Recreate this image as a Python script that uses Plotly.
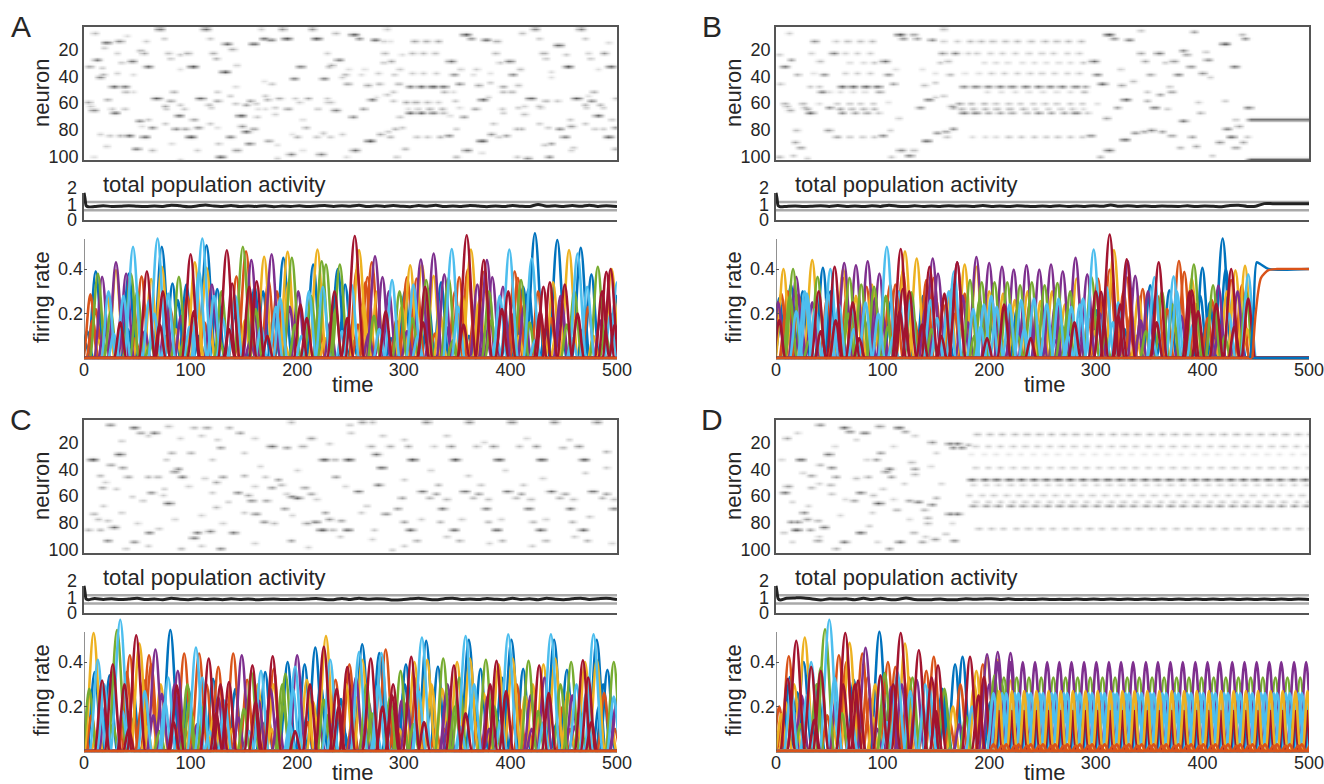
import numpy as np
import plotly.graph_objects as go

BLUE, ORANGE, YELLOW, PURPLE, GREEN, CYAN, RED = "#0072BD", "#D95319", "#EDB120", "#7E2F8E", "#77AC30", "#4DBEEE", "#A2142F"
COLOR_ORDER = [BLUE, ORANGE, YELLOW, PURPLE, GREEN, CYAN, RED]
TICKS_T = [0, 100, 200, 300, 400, 500]
TICKS_N = [20, 40, 60, 80, 100]
TICKS_R = [0.2, 0.4]
TICK_R_TEXT = ["0.2", "0.4"]

# ---- raster events: (time, neuron, darkness) ----
A_events = [(71,1.5,.8),(114,1.5,.8),(10,5,.4),(21,11.5,.8),(33,11,.7),(58,11,.3),(75,9,.3),(118,9,.3),(169,9,.8),(175,10,.7),(190,9,.9),(218,9,.9),(166,1.5,.3),(186,1.5,.6),(214,1.5,.6),(40,7,.2),(134,13,.8),(159,13,.8),(139,17,.5),(19,16,.3),(53,18,.4),(56,20,.5),(31,20,.3),(79,20,.4),(97,20,.5),(90,21,.3),(121,20,.5),(81,24,.3),(124,24,.4),(12,25,.7),(45,26,.8),(35,27,.3),(5,30,.5),(17,31,.3),(60,30,.8),(90,32,.2),(102,30,.9),(132,34,.9),(143,29,.3),(203,30,.7),(230,30,.4),(15,38,.7),(18,36,.4),(31,35,.3),(46,36,.2),(197,39,.7),(225,39,.7),(169,41,.2),(176,43,.3),(28,45,.8),(38,45,.7),(142,45,.2),(39,49,.4),(46,49,.2),(84,49,.4),(125,49,.3),(68,54,.9),(109,54,.9),(22,55,.4),(4,57,.5),(6,60,.3),(81,56,.5),(125,56,.5),(137,52,.3),(170,52,.3),(172,55,.4),(183,54,.5),(198,54,.3),(210,54,.5),(156,56,.5),(161,58,.3),(202,57,.3),(228,57,.3),(142,58,.3),(152,59,.5),(76,60,.5),(77,62,.3),(90,59,.3),(94,62,.3),(117,59,.4),(119,61,.3),(9,63,.7),(26,62,.3),(38,62,.3),(163,62,.2),(170,62,.2),(179,61,.3),(191,62,.5),(219,62,.3),(29,65,.8),(179,66,.3),(89,67,.8),(103,70,.5),(52,71,.6),(60,70,.3),(147,67,.9),(162,68,.3),(205,70,.2),(76,73,.3),(118,73,.3),(54,75,.2),(64,76,.6),(107,76,.6),(86,77,.6),(95,77,.5),(148,75,.6),(152,79,.8),(159,77,.5),(208,76,.4),(125,76,.2),(15,81,.3),(24,82,.3),(34,82,.4),(42,82,.8),(57,83,.8),(100,83,.9),(137,83,.7),(200,83,.4),(224,80,.3),(173,86,.5),(195,81,.2),(218,83,.3),(155,88,.7),(126,88,.3),(82,88,.2),(21,90,.3),(49,92,.7),(64,93,.4),(106,93,.3),(143,93,.6),(205,93,.2),(181,89,.2),(194,96,.7),(222,96,.7),(128,98,.8),(181,99,.3),(90,100,.2),(9,98,.2),
(236,5,.4),(253,6,.9),(258,9,.6),(273,10,.8),(281,11,.3),(287,11,.2),(310,11,.5),(321,11,.5),(332,11,.5),(284,2,.3),(358,6,.9),(363,9,.6),(377,10,.8),(387,11,.5),(411,5,.4),(423,2,.7),(466,2,.7),(427,9,.3),(470,9,.3),(445,14,.9),(492,12,.2),(228,20,.3),(282,20,.4),(308,20,.4),(318,20,.4),(329,20,.4),(298,21,.2),(386,20,.4),(431,20,.5),(452,21,.3),(473,20,.3),(488,20,.6),(433,24,.3),(475,24,.3),(239,25,.7),(288,26,.5),(281,27,.3),(344,26,.8),(399,26,.8),(390,27,.3),(232,29,.5),(263,32,.2),(248,32,.2),(296,32,.3),(353,32,.3),(368,32,.3),(409,32,.4),(454,30,.9),(494,30,.8),(482,32,.2),(260,36,.2),(276,35,.3),(245,36,.4),(242,38,.3),(226,39,.5),(291,36,.3),(308,35,.3),(318,35,.3),(330,35,.3),(347,36,.6),(365,36,.2),(402,36,.6),(381,35,.2),(438,34,.2),(438,38,.2),(247,43,.5),(266,44,.5),(277,43,.4),(295,43,.4),(306,45,.7),(316,45,.8),(327,45,.9),(337,45,.8),(352,43,.6),(370,44,.5),(381,42,.3),(393,45,.5),(407,44,.4),(338,49,.4),(346,49,.2),(393,49,.4),(401,49,.4),(290,49,.3),(478,49,.4),(284,51,.3),(274,53,.2),(270,55,.7),(290,56,.3),(302,57,.5),(311,57,.5),(322,57,.4),(332,57,.3),(348,56,.3),(374,55,.8),(379,53,.3),(419,54,.9),(433,56,.4),(444,56,.3),(462,54,.9),(476,56,.6),(473,52,.2),(499,54,.4),(228,54,.3),(231,57,.4),(262,62,.5),(236,63,.7),(313,62,.3),(324,62,.4),(336,62,.4),(304,62,.2),(352,61,.2),(367,62,.5),(392,62,.3),(407,61,.3),(413,60,.3),(427,60,.4),(428,61,.3),(470,59,.4),(471,61,.3),(484,59,.4),(487,61,.3),(306,65,.8),(316,65,.8),(327,65,.7),(337,65,.4),(343,67,.2),(393,65,.3),(413,66,.4),(252,68,.6),(296,68,.3),(356,68,.5),(482,67,.8),(456,70,.3),(495,70,.3),(384,73,.3),(427,73,.3),(457,75,.6),(470,73,.3),(435,76,.3),(498,76,.5),(406,77,.4),(410,77,.4),(479,77,.3),(487,77,.3),(446,77,.6),(349,77,.3),(292,77,.4),(298,76,.3),(285,79,.3),(278,81,.5),(242,81,.3),(224,81,.2),(382,81,.6),(342,82,.6),(396,82,.5),(389,83,.3),(312,83,.3),(322,83,.3),(334,83,.4),(287,83,.4),(231,83,.3),(268,86,.9),(373,86,.9),(451,83,.7),(492,83,.8),(438,88,.5),(432,89,.3),(301,92,.4),(254,93,.8),(359,93,.8),(459,91,.3),(457,93,.3),(498,92,.4),(223,96,.6),(293,98,.3),(349,98,.4),(436,98,.6),(416,99,.6),(246,98,.2),(406,98,.3),(373,95,.2)]

B_events = [(12,5,.3),(36,11,.6),(56,11,.3),(67,11,.4),(79,11,.4),(90,11,.4),(116,6,.9),(119,9,.6),(129,6,.5),(132,9,.5),(146,10,.6),(157,2,.4),(157,11,.3),(170,11,.3),(182,11,.4),(192,11,.4),(203,11,.4),(215,11,.4),(226,11,.4),(239,11,.4),(252,11,.4),(263,11,.4),(274,11,.4),(286,11,.4),
(3,21,.3),(33,20,.3),(54,20,.7),(65,20,.3),(76,20,.3),(88,20,.3),(156,20,.6),(168,20,.7),(180,20,.3),(188,20,.3),(201,20,.3),(212,20,.3),(224,20,.3),(237,20,.3),(249,20,.3),(260,20,.3),(273,20,.3),(284,20,.3),
(14,25,.5),(8,30,.7),(41,26,.4),(69,27,.2),(82,27,.2),(92,27,.3),(102,26,.8),(154,27,.3),(161,26,.4),(195,27,.2),(206,27,.2),(217,27,.2),(231,27,.2),(242,27,.2),(253,27,.2),(265,27,.2),(276,27,.2),(288,27,.3),(298,26,.8),
(20,36,.4),(35,35,.2),(45,36,.6),(65,35,.3),(76,35,.3),(88,35,.3),(105,36,.6),(112,32,.2),(137,32,.2),(149,35,.2),(163,36,.4),(177,35,.2),(190,35,.2),(202,35,.3),(214,35,.3),(226,35,.3),(238,35,.3),(249,35,.3),(261,35,.3),(273,35,.3),(284,35,.3),(301,36,.7),
(4,43,.3),(32,45,.3),(40,45,.3),(62,45,.8),(72,45,.8),(84,45,.8),(95,45,.8),(110,43,.5),(139,44,.4),(149,42,.3),(176,45,.6),(187,45,.7),(199,45,.7),(210,45,.7),(221,45,.7),(234,45,.7),(246,45,.7),(257,45,.7),(268,45,.7),(281,45,.7),(290,45,.5),(306,43,.8),
(43,49,.7),(50,49,.2),(60,49,.2),(72,49,.2),(83,49,.2),(97,49,.5),(198,49,.2),(211,49,.2),(224,49,.2),(237,49,.2),(250,49,.2),(263,49,.2),(276,49,.2),(289,49,.4),
(8,58,.4),(25,58,.4),(40,58,.2),(57,58,.3),(69,58,.3),(79,58,.3),(91,58,.3),(105,57,.2),(172,58,.5),(183,58,.4),(195,58,.4),(206,58,.3),(218,58,.3),(229,58,.3),(241,58,.3),(252,58,.3),(263,58,.3),(276,58,.3),(287,58,.3),(301,58,.2),
(10,60,.4),(13,63,.5),(27,61,.4),(29,62,.5),(50,61,.6),(60,62,.5),(71,62,.4),(82,62,.4),(92,62,.4),(135,61,.6),(165,60,.6),(166,61,.5),(174,62,.4),(185,62,.4),(196,62,.4),(207,62,.4),(219,62,.4),(232,62,.4),(243,62,.3),(255,62,.3),(267,62,.3),(278,62,.3),(288,62,.2),
(32,65,.8),(62,65,.6),(74,65,.5),(85,65,.5),(96,65,.3),(115,69,.3),(176,65,.7),(187,65,.7),(199,65,.5),(210,65,.5),(221,65,.5),(235,65,.4),(246,65,.6),(258,65,.5),(270,65,.5),(281,65,.7),(292,65,.3),(310,69,.5),
(143,55,.7),(149,53,.3),(157,52,.3),(19,78,.4),(49,78,.6),(57,83,.5),(69,83,.3),(81,83,.3),(92,83,.3),(100,82,.6),(107,78,.3),(151,80,.6),(159,79,.5),(166,77,.6),(141,86,.8),(160,83,.3),(184,83,.2),(196,83,.2),(206,83,.2),(218,83,.3),(230,83,.3),(242,83,.3),(253,83,.3),(264,83,.3),(276,83,.3),(287,83,.3),(295,82,.6),
(18,87,.5),(23,91,.5),(3,98,.4),(16,97,.3),(29,99,.3),(108,98,.3),(117,93,.7),(129,93,.4),(125,97,.7),
(312,6,.9),(317,9,.6),(331,10,.7),(342,3,.3),(392,4,.5),(440,9,.6),(421,13,.9),(437,6,.4),(342,20,.5),(359,20,.8),(382,18,.6),(385,21,.5),(403,19,.3),(346,26,.5),(373,26,.6),(405,25,.6),(365,27,.3),(389,30,.6),(430,30,.7),(400,35,.6),(323,32,.3),(351,36,.5),(377,36,.7),(407,38,.3),(324,44,.5),(335,41,.4),(348,49,.3),(371,49,.5),(360,51,.5),(369,45,.3),(328,55,.8),(348,56,.4),(396,57,.3),(421,56,.3),(320,61,.5),(355,61,.7),(367,62,.3),(443,61,.7),(398,65,.4),(382,71,.7),(431,70,.3),(337,80,.6),(345,79,.5),(352,78,.7),(362,79,.5),(371,82,.5),(423,77,.7),(434,75,.5),(390,83,.5),(427,83,.8),(442,83,.3),(327,85,.8),(416,87,.6),(438,87,.5),(394,90,.5),(379,91,.4),(431,91,.5),(312,93,.8),(304,98,.4),(409,97,.3)]
B_steady_rows = [(70, .75), (100, .85)]
B_steady_times = [446,448,450,452,454,456,458,460,462,464,466,468,470,472,474,476,478,480,482,484,486,488,490,492,494,496,498,500,502]

C_events = [(24.5,4,.6),(47,6,.8),(53,10,.5),(66,10,.7),(79,5,.4),(103,6,.4),(115,6,.5),(136,6,.4),(146,10,.5),(194,2,.4),(213,14,.6),(261,2,.6),(270,2,.4),(321,2,.7),(361,2,.7),(401,2,.7),(441,2,.7),(481,2,.7),(249,4,.3),(176,20,.8),(190,21,.5),(205,20,.5),(128,21,.5),(269,20,.5),(287,20,.5),(304,20,.5),(344,20,.6),(384,20,.6),(424,20,.6),(464,20,.6),(328,20,.3),(368,20,.4),(408,20,.4),(449,21,.4),(490,24,.4),(33,26,.9),(82,25,.4),(100,25,.4),(274,26,.8),(8,30,.9),(225,30,.9),(235,30,.4),(248,30,.9),(308,30,.9),(348,30,.9),(389,30,.9),(429,30,.9),(469,30,.9),(77,30,.3),(25,34,.5),(36,36,.5),(279,36,.8),(88,37,.6),(85,39,.6),(92,43,.7),(41,43,.5),(15,42,.4),(60,43,.4),(69,43,.4),(113,44,.3),(130,43,.5),(150,42,.4),(124,47,.5),(170,43,.3),(236,43,.5),(182,45,.5),(17,51,.5),(176,51,.5),(185,49,.4),(207,51,.5),(276,49,.7),(332,49,.4),(372,49,.3),(412,49,.3),(63,55,.6),(74,57,.3),(144,55,.6),(257,54,.8),(317,54,.8),(357,54,.8),(397,54,.8),(438,54,.8),(477,54,.8),(213,56,.5),(330,56,.5),(370,56,.5),(410,56,.5),(451,56,.5),(490,56,.5),(154,57,.5),(157,61,.6),(171,61,.5),(195,58,.7),(200,59,.8),(298,59,.5),(324,59,.4),(340,60,.4),(365,59,.4),(379,60,.4),(405,59,.4),(419,60,.4),(446,59,.4),(459,60,.4),(486,59,.4),(497,60,.4),(79,63,.9),(55,61,.3),(124,66,.4),(188,67,.5),(294,67,.5),(336,67,.7),(377,67,.7),(417,67,.7),(456,67,.7),(497,67,.7),(161,71,.6),(226,70,.5),(283,71,.6),(9,71,.4),(13,75,.4),(22,76,.3),(169,77,.6),(178,78,.4),(209,78,.6),(217,77,.7),(230,75,.6),(241,76,.5),(316,75,.3),(334,77,.4),(354,75,.3),(379,77,.4),(391,75,.3),(421,77,.4),(433,75,.3),(458,77,.4),(474,73,.3),(300,77,.5),(28,81,.8),(4,83,.4),(15,83,.4),(223,83,.9),(233,83,.4),(247,83,.8),(272,83,.3),(306,83,.8),(347,83,.8),(387,83,.8),(428,83,.8),(468,83,.8),(61,85,.7),(106,85,.7),(118,84,.7),(140,85,.7),(103,89,.7),(22,91,.6),(47,92,.6),(194,91,.5),(312,91,.4),(352,91,.4),(392,91,.4),(433,91,.4),(472,91,.4),(128,97,.6),(91,97,.4),(39,97,.3),(289,98,.3)]
C_faint = [(35,16),(60,12),(90,14),(110,12),(125,15),(160,14),(230,18),(300,15),(340,12),(375,17),(415,14),(455,15),(20,47),(30,52),(45,58),(75,52),(98,50),(120,55),(135,62),(160,50),(190,56),(218,60),(245,50),(265,65),(300,45),(325,38),(360,42),(395,38),(430,44),(470,40),(490,36),(18,65),(35,70),(50,78),(70,82),(85,75),(110,72),(130,78),(150,70),(195,72),(260,70),(270,90),(300,95),(340,88),(380,93),(420,95),(460,88),(495,93),(60,95),(110,95),(160,93),(210,96),(240,88),(250,10),(280,12),(150,25),(120,30),(165,35),(200,38)]

D_events = [(41,4,.6),(64,6,.8),(69,9,.6),(83,10,.7),(97,5,.6),(115,6,.8),(121,9,.5),(10,14,.5),(146,17,.6),(163,18,.7),(170,18,.7),(166,21,.6),(174,21,.6),(180,19,.4),(49,26,.8),(98,25,.5),(94,30,.5),(23,30,.8),(41,34,.4),(52,36,.6),(106,37,.7),(103,39,.6),(33,42,.5),(56,43,.5),(75,44,.4),(86,43,.4),(108,43,.5),(127,32,.4),(130,37,.5),(130,41,.4),(11,50,.6),(33,51,.4),(51,49,.4),(8,55,.7),(79,55,.7),(91,57,.4),(73,61,.5),(96,63,.9),(52,56,.3),(113,68,.4),(125,61,.5),(133,62,.7),(146,64,.6),(150,59,.4),(139,68,.4),(163,71,.7),(170,71,.7),(142,74,.4),(142,78,.4),(26,70,.6),(14,77,.6),(20,77,.6),(29,75,.6),(39,76,.4),(45,81,.8),(19,83,.9),(32,83,.5),(79,85,.8),(87,80,.3),(129,85,.4),(39,91,.5),(64,92,.7),(116,92,.7),(137,92,.5),(149,90,.6),(167,91,.6),(106,97,.5),(56,97,.4),(7,85,.3),(159,86,.3)]
D_faint = [(20,10),(55,20),(75,15),(110,20),(130,12),(150,25),(25,40),(40,48),(65,60),(100,52),(120,48),(145,35),(30,65),(60,72),(90,70),(125,75),(15,92),(40,88),(95,92),(140,88),(165,78),(5,30),(15,62),(85,30),(110,60),(155,48)]
D_cycle = [185,197,208,220,231.5,243,254.4,265.8,277.2,289,300.5,312.3,323.7,335,347,358.3,370,381.6,393.4,404.8,416.2,428,439.5,450.9,462.7,474,486,497.3]
D_rows = [(11,3.6,.4),(20,2,.3),(26,-2,.15),(36,2,.26),(45,-1.4,.8),(49,0,.24),(57,-4,.3),(62,2,.28),(65,0,.55),(82,5,.3)]

# ---- total population activity ----
pop_t = [0,1,2,4,10,18,26,34,42,50, 58,66,74,82,90,98,106,114,122,130, 138,146,154,162,170,178,186,194,202,210,
         218,226,234,242,250,258,266,274,282,290, 298,306,314,322,330,338,346,354,362,370, 378,386,394,402,410,418,426,434,442,450, 458,466,474,482,490,500]
A_pop = [2.0,1.55,1.05,.96,.98,1.03,.99,1.0,1.04,1.0, .98,1.01,.99,1.08,1.03,.97,1.02,1.09,1.01,.99, 1.06,.98,1.02,.99,1.04,.97,1.01,.99,1.03,.98,
         1.02,1.06,.99,1.03,1.0,1.07,.98,1.03,.99,1.05, 1.0,.97,1.05,1.0,1.07,.98,1.02,.99,1.06,1.01, .97,1.02,.98,1.06,1.0,.98,1.13,1.0,1.03,.98, 1.05,1.0,1.08,.99,1.03,.98]
B_pop = [2.0,1.55,1.04,.96,.99,1.02,.98,1.0,1.03,.99, 1.05,.99,1.02,.98,1.03,.99,1.07,1.0,.98,1.03, .99,1.02,.98,1.04,1.0,1.02,.98,1.05,.99,1.02,
         .98,1.03,1.0,.98,1.02,.99,1.04,.98,1.02,.99, 1.03,1.0,1.09,1.0,1.03,.99,1.02,.98,1.02,1.0, .99,1.03,.98,1.02,1.0,.97,1.05,1.07,.99,1.0, 1.19,1.19,1.19,1.19,1.19,1.19]
C_pop = [2.0,1.5,1.02,.97,1.06,.99,1.03,.98,1.02,1.07, .98,1.01,.97,1.07,1.0,.97,1.03,.99,1.02,.97, 1.03,.99,1.02,.97,1.0,1.02,.98,1.0,.99,1.02,
         1.06,.98,.97,1.06,.98,1.08,1.0,1.04,1.02,.94, .96,1.03,1.08,1.0,.96,1.04,1.08,.98,1.02,.98, 1.06,1.0,.97,1.08,.98,1.04,.97,1.07,1.0,.97, 1.03,1.08,.98,1.03,1.08,.98]
D_pop = [2.0,1.5,1.05,.95,1.08,1.1,1.1,1.02,.95,1.03, 1.01,1.03,.96,1.07,.98,1.08,.98,.98,1.1,.98, .96,.97,1.02,.96,.97,1.03,1.0,1.02,1.04,.98,
         1.03,.98,1.0,.98,1.01,.98,1.0,.98,1.01,.98, 1.01,.98,1.01,.98,1.01,.98,1.01,.98,1.01,.98, 1.01,.98,1.01,.98,1.01,.98,1.01,.98,1.01,.98, 1.01,.98,1.01,.98,1.01,.98]

# ---- firing-rate peaks, one list per colour: (time, rate) ----
A_peaks = {
 CYAN: [(46,.50),(69,.537),(111,.537),(37,.28),(23,.30),(108,.39),(79,.29),(122,.28),(180,.23),(184,.27),(211,.30),(251,.33),(289,.35),(345,.49),(399,.487),(420,.447),(463,.47),(500,.34)],
 BLUE: [(11,.39),(73,.50),(83,.335),(96,.33),(115,.507),(125,.31),(187,.45),(215,.42),(42,.38),(160,.32),(238,.40),(423,.56),(444,.53),(466,.495),(476,.376),(402,.26),(417,.31),(301,.30)],
 GREEN: [(13,.38),(44,.38),(89,.365),(149,.50),(195,.45),(223,.435),(227,.42),(240,.42),(321,.35),(342,.36),(410,.35),(482,.41)],
 PURPLE: [(17,.365),(30,.43),(39.5,.38),(77,.24),(157,.44),(176,.466),(273,.457),(280,.364),(316,.442),(328,.47),(338,.376),(383,.364),(393,.32),(378,.44)],
 YELLOW: [(30,.395),(104,.43),(115,.405),(73,.41),(63,.355),(169,.455),(191,.477),(219,.487),(258,.485),(306,.417),(317,.42),(328,.37),(363,.487),(455,.485),(495,.40)],
 ORANGE: [(6,.286),(54,.367),(143,.367),(152,.48),(173,.35),(256,.40),(270,.43),(266,.364),(303,.364),(312,.357),(352,.364),(360,.397),(375,.387),(404,.39),(407,.36)],
 RED: [(100,.466),(134,.484),(59,.39),(162,.345),(139,.335),(203,.24),(254,.548),(359,.552),(375,.44),(431,.32),(437,.34),(490,.387),(494,.40),(451,.33)],
}
A_low = [(3,.12),(8,.17),(14,.08),(19,.14),(25,.21),(28,.11),(34,.16),(41,.13),(48,.09),(52,.18),(57,.12),(62,.07),(66,.2),(71,.15),(76,.1),(81,.22),(86,.13),(91,.19),(94,.08),(99,.14),(103,.21),(108,.1),(113,.16),(118,.12),(122,.24),(127,.09),(130,.18),(136,.13),(141,.2),(146,.11),(151,.17),(156,.08),(161,.22),(166,.14),(172,.1),(178,.19),(183,.12),(188,.07),(193,.23),(198,.15),(204,.1),(209,.18),(214,.13),(220,.2),(226,.09),(231,.16),(236,.22),(242,.12),(247,.18),(252,.08),(257,.15),(262,.24),(267,.11),(272,.19),(277,.13),(283,.21),(288,.09),(293,.17),(298,.23),(303,.12),(308,.18),(313,.1),(318,.16),(323,.25),(329,.11),(334,.2),(340,.14),(346,.08),(351,.23),(356,.15),(361,.1),(366,.19),(371,.26),(377,.12),(382,.17),(387,.09),(392,.22),(397,.14),(403,.2),(408,.1),(413,.24),(418,.16),(423,.08),(428,.21),(433,.13),(438,.18),(443,.11),(448,.25),(453,.15),(458,.09),(463,.2),(468,.13),(473,.23),(478,.1),(484,.17),(489,.12),(494,.2),(498,.15)]
A_fill = [(1,.07),(11,.22),(22,.28),(36,.24),(50,.3),(61,.26),(74,.3),(88,.26),(97,.28),(106,.25),(120,.33),(129,.3),(142,.28),(155,.32),(168,.3),(181,.3),(192,.34),(201,.3),(213,.28),(224,.32),(235,.3),(245,.33),(264,.34),(275,.3),(286,.3),(296,.3),(309,.33),(320,.32),(335,.34),(348,.3),(355,.28),(369,.33),(380,.3),(390,.28),(398,.3),(412,.32),(426,.3),(440,.34),(447,.28),(460,.3),(472,.32),(486,.3),(499,.28)]

B_peaks = {
 BLUE: [(3,.27),(14,.33),(25,.30),(44,.405),(51,.30),(166,.33),(108,.26),(301,.214),(351,.327),(369,.304),(400,.405),(407,.25),(419,.537),(422,.40)],
 ORANGE: [(5,.29),(21,.286),(11,.30),(29,.27),(48,.27),(107,.33),(112,.33),(119,.39),(141,.35),(148,.36),(157,.24),(166,.327),(177,.29),(63,.36),(85,.32),(302,.357),(313,.397),(329,.364),(344,.31),(358,.28),(378,.436),(383,.387),(394,.244),(427,.35),(437,.327)],
 YELLOW: [(7,.40),(34,.44),(63,.40),(75,.28),(90,.33),(121,.48),(132,.447),(177,.42),(188,.41),(200,.30),(213,.29),(224,.26),(236,.30),(248,.256),(259,.30),(271,.24),(282,.357),(317,.485),(390,.357),(431,.394),(440,.414)],
 PURPLE: [(19,.365),(34,.25),(64,.427),(75,.417),(86,.435),(97,.38),(147,.447),(152,.38),(170,.43),(188,.454),(200,.427),(212,.41),(223,.397),(235,.417),(247,.397),(258,.42),(269,.39),(281,.45),(292,.376),(330,.436),(337,.37),(415,.326)],
 GREEN: [(16,.40),(39,.365),(69,.36),(80,.33),(92,.32),(127,.295),(182,.35),(193,.34),(205,.34),(217,.34),(229,.327),(240,.34),(252,.327),(264,.337),(276,.30),(296,.364),(392,.42),(410,.327),(372,.24)],
 CYAN: [(104,.50),(19,.21),(29,.29),(49,.29),(51,.40),(59,.24),(72,.23),(84,.25),(96,.20),(126,.26),(145,.26),(162,.30),(167,.39),(185,.22),(195,.24),(207,.23),(219,.24),(230,.26),(242,.267),(254,.244),(265,.267),(277,.23),(288,.267),(298,.487),(310,.32),(321,.25),(355,.364),(373,.367),(443,.376)],
 RED: [(117,.49),(55,.41),(144,.41),(170,.43),(158,.29),(72,.25),(56,.17),(3,.17),(119,.31),(137,.15),(313,.555),(329,.444),(359,.43),(390,.304),(427,.40),(321,.19),(305,.297),(443,.267),(413,.244)],
}
B_low = [(4,.14),(9,.2),(16,.1),(23,.17),(31,.08),(37,.22),(42,.12),(47,.18),(54,.09),(58,.15),(62,.11),(68,.2),(73,.13),(78,.09),(83,.17),(88,.12),(94,.07),(100,.19),(105,.14),(110,.1),(116,.21),(123,.12),(130,.17),(135,.09),(140,.22),(146,.13),(151,.18),(155,.1),(161,.15),(168,.2),(174,.12),(180,.16),(186,.1),(192,.14),(198,.09),(203,.16),(210,.12),(215,.08),(221,.15),(227,.1),(233,.13),(239,.09),(245,.15),(251,.1),(256,.14),(262,.08),(268,.15),(274,.1),(280,.16),(286,.09),(293,.18),(299,.12),(304,.2),(309,.1),(316,.16),(323,.24),(327,.13),(333,.2),(338,.1),(342,.17),(347,.12),(353,.09),(357,.16),(362,.11),(367,.22),(374,.14),(380,.19),(385,.1),(391,.15),(396,.21),(402,.12),(405,.18),(411,.08),(416,.15),(421,.1),(425,.2),(430,.14),(435,.17),(439,.1),(442,.13)]
B_fill = [(2,.25),(13,.28),(27,.3),(40,.3),(52,.28),(66,.27),(78,.26),(93,.27),(103,.28),(115,.3),(125,.3),(138,.28),(150,.27),(163,.3),(175,.28),(191,.26),(202,.28),(214,.24),(226,.22),(238,.24),(250,.22),(262,.24),(274,.22),(285,.24),(300,.3),(315,.3),(326,.3),(340,.28),(349,.3),(362,.3),(376,.3),(388,.3),(398,.28),(409,.26),(423,.3),(433,.3),(441,.3)]
B_base_end = 447
B_final_blue_t = [445,448,451,455,462,500]
B_final_blue_v = [0,.2,.43,.42,.40,.40]
B_final_orange_t = [447,450,455,462,470,500]
B_final_orange_v = [0,.2,.36,.395,.40,.40]
B_after_t = [447,500]
B_after_v = [0,0]

C_peaks = {
 BLUE: [(10,.355),(24,.34),(81,.544),(98,.28),(121,.325),(170,.355),(191,.40),(207,.39),(217,.465),(261,.48),(277,.44),(321,.495),(361,.50),(401,.50),(441,.50),(481,.50),(332,.38),(372,.37),(412,.37),(453,.365),(491,.365),(302,.39),(241,.234)],
 ORANGE: [(40,.355),(43,.43),(61,.43),(63,.39),(94,.438),(108,.438),(126,.378),(140,.438),(115,.30),(283,.456),(279,.42),(249,.39),(178,.37),(0,.09),(338,.1),(377,.1),(417,.1),(456,.1),(498,.1)],
 YELLOW: [(9,.53),(52,.483),(227,.517),(178,.30),(122,.17),(322,.41),(362,.415),(402,.415),(442,.415),(481,.41),(209,.32),(261,.41),(310,.40),(350,.40),(389,.39),(431,.39),(470,.40)],
 PURPLE: [(67,.456),(88,.36),(148,.43),(200,.43),(73,.257),(164,.227),(267,.22),(340,.257),(379,.25),(419,.25),(458,.25),(500,.234),(298,.227),(126,.24)],
 GREEN: [(31,.544),(99,.22),(157,.355),(189,.347),(225,.23),(287,.24),(297,.36),(337,.415),(377,.41),(417,.405),(457,.40),(497,.40)],
 CYAN: [(34,.59),(13,.41),(105,.465),(57,.27),(79,.33),(231,.41),(258,.445),(317,.51),(358,.517),(398,.524),(438,.524),(478,.524),(132,.227),(166,.36),(198,.38),(497,.245),(279,.44)],
 RED: [(17,.317),(27,.39),(49,.52),(117,.415),(158,.385),(177,.426),(225,.468),(247,.378),(269,.415),(307,.423),(347,.385),(387,.405),(427,.385),(468,.408),(237,.28),(289,.25),(87,.295),(136,.31)],
}
C_low = [(2,.1),(7,.16),(12,.09),(20,.2),(27,.12),(36,.18),(42,.1),(47,.15),(54,.2),(59,.11),(65,.16),(71,.09),(76,.22),(84,.13),(90,.18),(95,.1),(101,.16),(106,.12),(112,.2),(118,.09),(124,.17),(129,.13),(134,.21),(139,.1),(145,.15),(150,.19),(155,.09),(161,.22),(167,.13),(172,.18),(176,.1),(182,.16),(187,.2),(193,.12),(198,.09),(204,.18),(210,.13),(215,.22),(221,.1),(228,.16),(233,.12),(239,.2),(244,.09),(252,.15),(256,.24),(263,.12),(270,.17),(274,.1),(280,.2),(285,.13),(292,.18),(296,.1),(303,.22),(309,.12),(314,.27),(319,.13),(325,.19),(330,.1),(336,.28),(342,.14),(348,.2),(353,.11),(358,.17),(364,.25),(369,.13),(375,.26),(380,.1),(385,.2),(391,.14),(396,.27),(403,.12),(409,.19),(414,.25),(420,.1),(426,.18),(431,.13),(436,.26),(443,.12),(449,.2),(454,.27),(460,.11),(465,.18),(471,.26),(476,.13),(483,.2),(488,.26),(494,.14),(499,.2)]
C_fill = [(5,.28),(19,.3),(38,.3),(46,.28),(56,.32),(72,.3),(85,.3),(97,.3),(111,.33),(128,.3),(142,.28),(153,.32),(163,.3),(175,.28),(186,.3),(196,.28),(212,.3),(222,.3),(236,.32),(246,.3),(255,.33),(265,.3),(276,.3),(290,.3),(301,.3),(312,.33),(326,.3),(341,.3),(352,.33),(366,.3),(381,.3),(392,.33),(406,.3),(421,.3),(432,.33),(447,.3),(462,.3),(473,.33),(487,.3)]

D_peaks = {
 BLUE: [(26,.40),(97,.536),(168,.39),(175,.423),(13,.332),(20,.264),(159,.22)],
 ORANGE: [(12,.426),(59,.43),(81,.438),(105,.40),(66,.40),(148,.423),(194,.39),(141,.36),(112,.378),(125,.33)],
 YELLOW: [(27,.51),(69,.486),(121,.483),(5,.166),(198,.42),(188,.36),(208,.41),(220,.317)],
 PURPLE: [(84,.464),(108,.287),(198,.435),(208,.445),(220,.44)],
 GREEN: [(46,.547),(42,.375),(102,.35),(158,.28),(205,.34)],
 CYAN: [(50,.59),(14,.27),(114,.355),(126,.27),(98,.33),(33,.40)],
 RED: [(19,.495),(65,.53),(117,.53),(98,.34),(134,.453),(152,.385),(42,.36),(33,.378),(11,.325),(182,.423),(77,.317),(195,.332)],
}
D_low = [(2,.08),(6,.14),(9,.22),(16,.18),(23,.12),(29,.25),(36,.14),(39,.3),(48,.16),(53,.12),(56,.22),(62,.17),(71,.14),(74,.3),(79,.12),(88,.24),(91,.15),(95,.1),(101,.2),(104,.13),(110,.3),(120,.14),(123,.25),(129,.2),(132,.32),(137,.15),(144,.28),(150,.18),(155,.24),(163,.13),(166,.2),(172,.12),(178,.16),(184,.2),(190,.25),(201,.22)]
D_fill = [(3,.2),(17,.3),(24,.25),(38,.3),(55,.33),(63,.3),(73,.32),(86,.33),(93,.3),(118,.3),(128,.33),(140,.3),(146,.33),(156,.28),(173,.3),(186,.3),(200,.3),(212,.3)]
# periodic part of D: colour, phase after D_cycle time, height, half-width; bottom layer first
D_modes = [(GREEN,5.8,.33,7),(PURPLE,0,.40,6.5),(CYAN,-4,.26,6),(CYAN,4.1,.26,6),(CYAN,-1.5,.2,5),(CYAN,6,.15,5),(BLUE,2,.18,3.2),(RED,1,.18,3.2),(YELLOW,1.3,.27,4.6),(ORANGE,-4,.03,3.5),(ORANGE,4,.025,3.5)]

PEAK_ORDER = [BLUE, ORANGE, YELLOW, PURPLE, GREEN, CYAN, RED]
INK = "#262626"; BOX = "#555555"; GRAY = "#a9a9a9"; FONT = "Liberation Sans"
W, H = 1324, 784
LINE_W = 2.6


def raster_matrix(events):
    z = np.zeros((100, 261))
    tg = np.arange(261) * 2.0 - 10
    for t, n, s in events:
        hw = 4 + 3.5 * s
        prof = np.clip(1 - np.abs(tg - t) / hw, 0, 1) ** .8 * s
        r = int(round(n)) - 1
        for dr, w in ((-2, .1), (-1, .5), (0, 1), (1, .5), (2, .1)):
            if 0 <= r + dr < 100:
                z[r + dr] = np.maximum(z[r + dr], prof * w)
    return tg, z


def tracks(peaks, hw_fixed=None):
    out = []
    for t, v in sorted(peaks):
        hw = hw_fixed if hw_fixed else 4.2 + 8 * v
        for tr in out:
            if tr[-1][0] <= t - hw:
                break
        else:
            tr = [(-12.0, 0.0)]
            out.append(tr)
        tr += [(t - hw - .6, 0), (t - hw, 0), (t, v), (t + hw, 0), (t + hw + .6, 0)]
    for tr in out:
        tr.append((512.0, 0.0))
    return out


fig = go.Figure()
layout = {}
shapes = []
ann = []
idx = [0]


def axes(x0, x1, top, bottom, xr, yr):
    idx[0] += 1
    i = idx[0]
    sx = "" if i == 1 else str(i)
    base = dict(showgrid=False, zeroline=False, automargin=False, ticklabeloverflow="allow", tickfont=dict(family=FONT, size=18, color=INK))
    layout["xaxis" + sx] = dict(base, domain=[x0 / W, x1 / W], range=xr, anchor="y" + sx, showticklabels=False, ticks="", fixedrange=True)
    layout["yaxis" + sx] = dict(base, domain=[1 - bottom / H, 1 - top / H], range=yr, anchor="x" + sx, showticklabels=False, ticks="", fixedrange=True)
    return i, "x" + sx, "y" + sx


def text(x, y, s, size=22, rot=0, anchor="center"):
    ann.append(dict(x=x / W, y=1 - y / H, xref="paper", yref="paper", text=s, showarrow=False, textangle=rot,
                    xanchor=anchor, yanchor="middle", font=dict(family=FONT, size=size, color=INK)))


def line_trace(xs, ys, c, xa, ya, w=LINE_W, shape="spline", smooth=1):
    return go.Scatter(x=xs, y=ys, mode="lines", line=dict(color=c, width=w, shape=shape, smoothing=smooth),
                      hoverinfo="skip", showlegend=False, xaxis=xa, yaxis=ya)


def panel(letter, dx, dy, events, pop, peaks, low, fill, extra_top=None, mode_layer=None, base_end=500):
    x0, x1 = 84 + dx, 617 + dx
    # raster
    i, xa, ya = axes(x0, x1, 27 + dy, 160 + dy, [0, 500], [100.5, 0.5])
    tg, z = raster_matrix(events)
    fig.add_trace(go.Heatmap(x=tg, y=np.arange(1, 101), z=z, zmin=0, zmax=1, zsmooth="best", showscale=False, hoverinfo="skip",
                             colorscale=[[0, "#ffffff"], [.1, "#eeeeee"], [1, "#484848"]], xaxis=xa, yaxis=ya))
    k = "axis" + (str(i) if i > 1 else "")
    layout["y" + k].update(tickvals=TICKS_N, showticklabels=True, ticklabelshift=3, showline=True, mirror=True, linecolor=BOX, linewidth=1.5)
    layout["x" + k].update(showline=True, mirror=True, linecolor=BOX, linewidth=1.5)
    # population
    i, xa, ya = axes(x0, x1, 192.5 + dy, 220 + dy, [0, 500], [0, 2])
    for lvl in (1.3, .7):
        fig.add_trace(line_trace([0, 500], [lvl, lvl], GRAY, xa, ya, 2.5, "linear"))
    fig.add_trace(line_trace(pop_t, pop, "#222222", xa, ya, 3, "spline", .8))
    k = "axis" + str(i)
    layout["y" + k].update(showline=True, linecolor=BOX, linewidth=1.5)
    layout["x" + k].update(showline=True, linecolor=BOX, linewidth=1.5)
    for lab, yy in (("2", 188), ("1", 205), ("0", 220)):
        text(79 + dx, yy + dy, lab, 18, anchor="right")
    # firing
    zero, sc = 358 + dy, 222.5
    i, xa, ya = axes(x0, x1, zero - .60 * sc, zero + .006 * sc, [0, 500], [-.006, .60])
    merged = {c: list(peaks[c]) for c in PEAK_ORDER}
    for j, pk in enumerate(low + fill):
        merged[COLOR_ORDER[j % 7]].append(pk)
    for c in PEAK_ORDER:
        for tr in tracks(merged[c]):
            fig.add_trace(line_trace([a for a, _ in tr], [b for _, b in tr], c, xa, ya))
    if mode_layer:
        for c, off, h, hw in mode_layer:
            for tr in tracks([(t + off, h) for t in D_cycle[2:]], hw):
                fig.add_trace(line_trace([a for a, _ in tr], [b for _, b in tr], c, xa, ya))
    fig.add_trace(line_trace([0, base_end], [0, 0], ORANGE, xa, ya, 2.6, "linear"))
    if extra_top:
        for c, xs, ys in extra_top:
            fig.add_trace(line_trace(xs, ys, c, xa, ya, 2.4, "spline", .7))
    k = "axis" + str(i)
    layout["y" + k].update(tickvals=TICKS_R, ticktext=TICK_R_TEXT, showticklabels=True, ticks="inside", ticklen=3, tickcolor=BOX)
    layout["x" + k].update(tickvals=TICKS_T, showticklabels=True, ticklabelstandoff=-2)
    shapes.append(dict(type="line", xref=xa, yref=ya, x0=0, x1=0, y0=0, y1=.535, line=dict(color=BOX, width=1.3)))
    # texts
    text(21 + dx - (1 if dx else 0), 26 + dy, letter, 30)
    text(41 + dx, 93 + dy, "neuron", 22, -90)
    text(41 + dx, 297 + dy, "firing rate", 22, -90)
    text(101 + dx, 184 + dy, "total population activity", 22, anchor="left")
    text(353 + dx, 384 + dy - (5 if dy else 0), "time", 22)


panel("A", 0, 0, A_events, A_pop, A_peaks, A_low, A_fill)
panel("B", 692, 0, B_events + [(t, n, s) for n, s in B_steady_rows for t in B_steady_times], B_pop, B_peaks, B_low, B_fill,
      extra_top=[(BLUE, B_after_t, B_after_v), (BLUE, B_final_blue_t, B_final_blue_v), (ORANGE, B_final_orange_t, B_final_orange_v)], base_end=B_base_end)
panel("C", 0, 393, C_events + [(t, n, .28) for t, n in C_faint], C_pop, C_peaks, C_low, C_fill)
panel("D", 692, 393, D_events + [(t, n, .25) for t, n in D_faint] + [(t + off, n, s) for n, off, s in D_rows for t in D_cycle], D_pop, D_peaks, D_low, D_fill, mode_layer=D_modes)

fig.update_layout(template=None, width=W, height=H, margin=dict(l=0, r=0, t=0, b=0, pad=0, autoexpand=False), autosize=False, paper_bgcolor="white", plot_bgcolor="white",
                  showlegend=False, shapes=shapes, annotations=ann, **layout)
fig.write_html("out.html", config=dict(displayModeBar=False), post_script="document.body.style.margin='0';document.body.style.overflow='hidden';")
